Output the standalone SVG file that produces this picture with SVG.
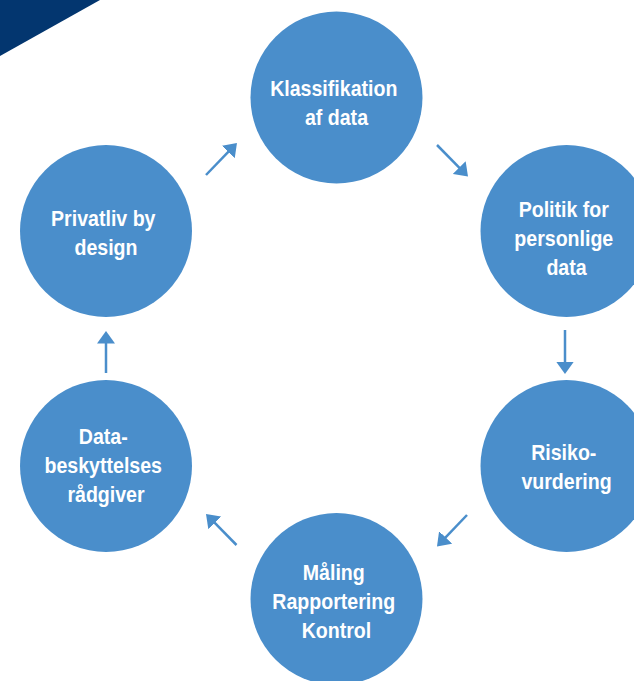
<svg xmlns="http://www.w3.org/2000/svg" width="634" height="681" viewBox="0 0 634 681">
  <style>
    .node circle { fill: #4a8ecb; }
    .node text { fill: #ffffff; font-family: "Liberation Sans", Arial, sans-serif; font-weight: bold; font-size: 22.5px; text-anchor: middle; }
    .conn line { stroke: #4a8ecb; stroke-width: 2.5; fill: none; marker-end: url(#arrow); }
  </style>
  <defs>
    <marker id="arrow" markerUnits="userSpaceOnUse" viewBox="0 0 12.5 18" markerWidth="12.5" markerHeight="18" refX="4.5" refY="9" orient="auto">
      <path d="M0,0 L12.5,9 L0,18 z" fill="#4a8ecb"/>
    </marker>
  </defs>
  <rect width="634" height="681" fill="#ffffff"/>
  <polygon points="0,0 100,0 0,56" fill="#03366f"/>

  <g id="connectors" class="conn">
    <line x1="206" y1="175" x2="231.4" y2="148.7"/>
    <line x1="437" y1="145" x2="462.4" y2="170.8"/>
    <line x1="565" y1="330" x2="565" y2="366"/>
    <line x1="467" y1="515" x2="442.5" y2="540.7"/>
    <line x1="236.5" y1="545" x2="211.6" y2="519.7"/>
    <line x1="106" y1="373" x2="106" y2="339"/>
  </g>

  <g id="klassifikation" class="node">
    <circle cx="336.5" cy="97.5" r="86"/>
    <text transform="translate(336.5,0) scale(0.87,1) translate(-336.5,0)">
      <tspan x="336.5" y="96.5">Klassifikation</tspan>
      <tspan x="336.5" y="125.5">af data</tspan>
    </text>
  </g>

  <g id="politik" class="node">
    <circle cx="566.5" cy="231" r="86"/>
    <text transform="translate(566.5,0) scale(0.87,1) translate(-566.5,0)">
      <tspan x="566.5" y="217">Politik for</tspan>
      <tspan x="566.5" y="246">personlige</tspan>
      <tspan x="566.5" y="275">data</tspan>
    </text>
  </g>

  <g id="risiko" class="node">
    <circle cx="566.5" cy="466" r="86"/>
    <text transform="translate(566.5,0) scale(0.87,1) translate(-566.5,0)">
      <tspan x="566.5" y="460.5">Risiko-</tspan>
      <tspan x="566.5" y="489.5">vurdering</tspan>
    </text>
  </g>

  <g id="maaling" class="node">
    <circle cx="336.5" cy="599" r="86"/>
    <text transform="translate(336.5,0) scale(0.87,1) translate(-336.5,0)">
      <tspan x="336.5" y="580">Måling</tspan>
      <tspan x="336.5" y="609">Rapportering</tspan>
      <tspan x="336.5" y="638">Kontrol</tspan>
    </text>
  </g>

  <g id="databeskyttelse" class="node">
    <circle cx="106" cy="466" r="86"/>
    <text transform="translate(106,0) scale(0.87,1) translate(-106,0)">
      <tspan x="106" y="444">Data-</tspan>
      <tspan x="106" y="473">beskyttelses</tspan>
      <tspan x="106" y="502">rådgiver</tspan>
    </text>
  </g>

  <g id="privatliv" class="node">
    <circle cx="106" cy="231" r="86"/>
    <text transform="translate(106,0) scale(0.87,1) translate(-106,0)">
      <tspan x="106" y="226.5">Privatliv by</tspan>
      <tspan x="106" y="255.5">design</tspan>
    </text>
  </g>
</svg>
